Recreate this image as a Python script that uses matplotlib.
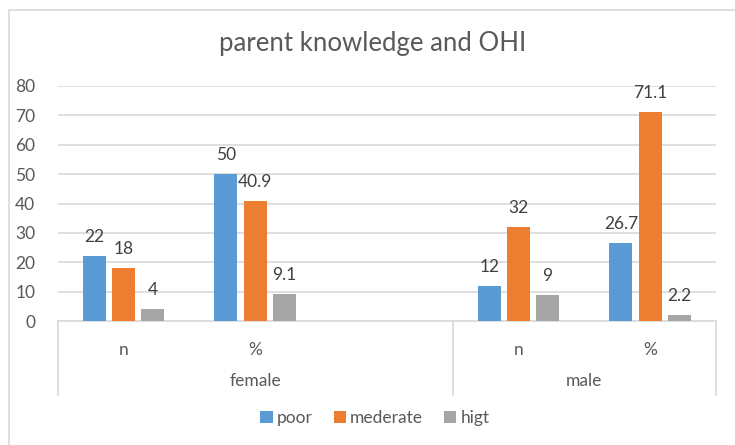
import numpy as np
import matplotlib.pyplot as plt
from matplotlib.patches import Rectangle, Patch
from matplotlib.lines import Line2D

plt.rcParams['font.family'] = ['Lato', 'DejaVu Sans']

# data
groups = ['female', 'male']
sub_labels = ['n', '%', '', 'n', '%']   # female has an empty third slot
series = ['poor', 'mederate', 'higt']
poor = [22, 50, None, 12, 26.7]
mederate = [18, 40.9, None, 32, 71.1]
higt = [4, 9.1, None, 9, 2.2]
value_labels = {
    'poor': ['22', '50', '', '12', '26.7'],
    'mederate': ['18', '40.9', '', '32', '71.1'],
    'higt': ['4', '9.1', '', '9', '2.2'],
}
colors = ['#5B9BD5', '#ED7D31', '#A5A5A5']
text_col = '#595959'
grid_col = '#D9D9D9'
fs = 12.5

W, H = 735, 445
fig = plt.figure(figsize=(W / 100, H / 100), dpi=100)

# light chart border (only top and left visible in the crop)
fig.patches.append(Rectangle((9 / W, -0.1), 1.2, (H - 10) / H + 0.1,
                             transform=fig.transFigure, fill=False,
                             edgecolor=grid_col, lw=1.2))

left, right, top, bottom = 57.5, 716, 86, 321
ax = fig.add_axes([left / W, 1 - bottom / H, (right - left) / W, (bottom - top) / H])

x = np.arange(len(sub_labels))
bw = 0.175
step = 0.222
for i, (name, vals) in enumerate(zip(series, [poor, mederate, higt])):
    xs = [xi + (i - 1) * step for xi, v in zip(x, vals) if v is not None]
    vs = [v for v in vals if v is not None]
    ax.bar(xs, vs, width=bw, color=colors[i], zorder=3)
    labs = [l for l in value_labels[name] if l]
    for xx, vv, ll in zip(xs, vs, labs):
        ax.annotate(ll, (xx, vv), xytext=(0, 10), textcoords='offset points',
                    ha='center', va='baseline', fontsize=fs, color='#404040')

ax.set_xlim(-0.5, len(sub_labels) - 0.5)
ax.set_ylim(0, 80)
ax.set_yticks(range(0, 81, 10))
ax.yaxis.grid(True, color=grid_col, lw=1.2, zorder=0)
ax.set_axisbelow(True)
for s in ['top', 'right', 'left']:
    ax.spines[s].set_visible(False)
ax.spines['bottom'].set_color(grid_col)
ax.spines['bottom'].set_linewidth(1.2)
ax.tick_params(axis='y', length=0, pad=16, labelsize=fs, labelcolor=text_col)
ax.set_xticks(x)
ax.set_xticklabels(sub_labels)
ax.tick_params(axis='x', length=0, pad=15, labelsize=fs, labelcolor=text_col)

# group labels and separators below the axis
ax_h = bottom - top
sep_depth = (395 - bottom) / ax_h
for xs in [-0.5, 2.5, 4.5]:
    ax.add_line(Line2D([xs, xs], [0, -sep_depth], transform=ax.get_xaxis_transform(),
                       color=grid_col, lw=1.2, clip_on=False))
ax.text(1.0, -(381 - bottom) / ax_h, groups[0], transform=ax.get_xaxis_transform(),
        ha='center', va='center', fontsize=fs, color=text_col)
ax.text(3.5, -(381 - bottom) / ax_h, groups[1], transform=ax.get_xaxis_transform(),
        ha='center', va='center', fontsize=fs, color=text_col)

fig.text(373 / W, 1 - 44 / H, 'parent knowledge and OHI', ha='center', va='center',
         fontsize=18.5, color=text_col)

handles = [Patch(facecolor=c, edgecolor='none') for c in colors]
fig.legend(handles, series, loc='center', bbox_to_anchor=(375 / W, 1 - 418 / H),
           ncol=3, frameon=False, fontsize=fs, labelcolor=text_col,
           handlelength=0.7, handleheight=0.7, handletextpad=0.25, columnspacing=1.2)

fig.savefig('out.png', dpi=100)
